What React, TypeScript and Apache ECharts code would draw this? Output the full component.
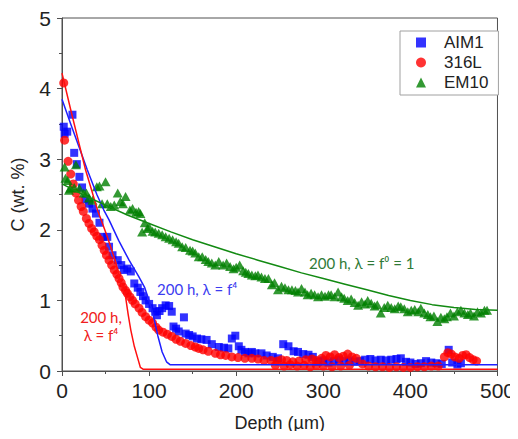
import React, { useEffect, useRef } from "react";
import * as echarts from "echarts";

// ---- data (depth in µm, C in wt.%) ----
const aim1Points: number[][] = [
  [2, 3.46], [3, 3.36], [6, 3.39], [12, 3.63], [14, 3.09], [17, 2.93], [20, 2.75], [23, 2.6],
  [27, 2.43], [31, 2.37], [35, 2.3], [39, 2.23], [43, 2.1], [47, 1.9], [52, 1.9], [54, 1.76],
  [58, 1.64], [64, 1.57], [68, 1.5], [71, 1.43], [75, 1.45], [79, 1.41], [83, 1.24], [87, 1.18],
  [90, 1.12], [93, 1.06], [96, 1.0], [100, 0.95], [104, 0.89], [107, 0.84], [109, 0.79], [112, 0.85],
  [115, 0.89], [119, 0.93], [123, 0.92], [126, 0.84], [128, 0.63], [131, 0.6], [134, 0.56], [140, 0.76],
  [142, 0.53], [146, 0.51], [150, 0.49], [155, 0.46], [160, 0.45], [166, 0.44], [172, 0.38], [180, 0.34],
  [186, 0.33], [191, 0.32], [195, 0.46], [199, 0.5], [203, 0.35], [206, 0.3], [210, 0.27], [214, 0.25],
  [218, 0.27], [222, 0.25], [229, 0.25], [235, 0.22], [242, 0.2], [248, 0.18], [254, 0.38], [260, 0.35],
  [266, 0.28], [271, 0.27], [277, 0.24], [283, 0.23], [288, 0.2], [294, 0.13], [300, 0.15], [306, 0.12],
  [312, 0.14], [318, 0.16], [324, 0.14], [330, 0.15], [336, 0.13], [342, 0.14], [348, 0.16], [354, 0.17],
  [360, 0.15], [366, 0.16], [372, 0.15], [378, 0.16], [384, 0.17], [389, 0.18], [395, 0.13], [400, 0.12],
  [406, 0.1], [412, 0.11], [418, 0.14], [424, 0.12], [430, 0.11], [436, 0.1], [444, 0.3], [448, 0.12],
  [454, 0.09], [458, 0.11],
];

const ss316Points: number[][] = [
  [2, 4.08], [3, 3.27], [7, 2.97], [10, 2.79], [13, 2.65], [16, 2.52], [19, 2.42], [22, 2.33],
  [24.5, 2.26], [28, 2.16], [31, 2.09], [34, 2.02], [37, 1.97], [40, 1.91], [43, 1.86], [46, 1.78],
  [48.5, 1.71], [51, 1.64], [54, 1.57], [57, 1.5], [60, 1.43], [63, 1.37], [65.5, 1.31], [68, 1.25],
  [70, 1.19], [73, 1.14], [75, 1.1], [78, 1.05], [81, 1.0], [84, 0.95], [88.5, 0.89], [92, 0.83],
  [96, 0.77], [100, 0.72], [104, 0.68], [108, 0.62], [111, 0.58], [116, 0.55], [121, 0.52], [126, 0.49],
  [131, 0.45], [136, 0.42], [142, 0.39], [148, 0.36], [153, 0.34], [157, 0.32], [162, 0.3], [168, 0.28],
  [176, 0.25], [182, 0.23], [188, 0.22], [195, 0.2], [202, 0.19], [210, 0.18], [218, 0.18], [225, 0.17],
  [232, 0.15], [240, 0.15], [247, 0.14], [252, 0.16], [258, 0.15], [265, 0.13], [272, 0.14], [280, 0.16],
  [287, 0.17], [292, 0.15], [298, 0.18], [303, 0.22], [308, 0.2], [313, 0.23], [318, 0.19], [323, 0.21],
  [328, 0.24], [333, 0.2], [338, 0.18], [345, 0.1], [352, 0.07], [360, 0.06], [368, 0.06], [376, 0.05],
  [384, 0.06], [392, 0.05], [400, 0.05], [408, 0.06], [416, 0.06], [424, 0.07], [432, 0.07], [439, 0.2],
  [443, 0.26], [447, 0.24], [451, 0.2], [456, 0.18], [460, 0.22], [464, 0.23], [468, 0.19], [472, 0.16],
  [476, 0.14], [245, 0.08], [255, 0.07], [262, 0.09], [270, 0.07], [278, 0.08], [285, 0.06], [292, 0.08],
  [300, 0.07], [310, 0.06], [320, 0.07], [330, 0.08],
];

const em10Points: number[][] = [
  [3, 2.89], [4, 2.73], [6.6, 2.7], [8, 2.56], [9.4, 2.59], [14, 2.6], [16, 2.92], [20, 2.59],
  [25, 2.52], [28, 2.52], [31, 2.45], [35, 2.42], [40, 2.61], [43, 2.62], [46, 2.37], [50, 2.68],
  [52, 2.37], [56, 2.33], [60, 2.35], [64, 2.52], [67, 2.4], [70, 2.37], [73, 2.47], [78, 2.28],
  [81, 2.3], [85, 2.25], [88, 2.26], [90, 2.23], [92, 1.97], [95, 2.1], [98, 2.02], [100, 2.04],
  [104, 1.98], [107, 1.97], [111, 1.95], [115, 1.93], [119, 1.9], [123, 1.88], [127, 1.86], [131, 1.83],
  [134, 1.81], [138, 1.76], [142, 1.75], [147, 1.71], [150, 1.7], [153, 1.67], [157, 1.62], [161, 1.62],
  [165, 1.58], [168, 1.55], [172, 1.53], [176, 1.5], [180, 1.55], [185, 1.5], [189, 1.53], [193, 1.48],
  [197, 1.45], [200, 1.47], [204, 1.5], [208, 1.42], [211, 1.4], [214, 1.38], [218, 1.36], [222, 1.35],
  [225, 1.36], [229, 1.33], [233, 1.31], [237, 1.31], [241, 1.22], [244, 1.25], [248, 1.15], [252, 1.2],
  [256, 1.18], [260, 1.15], [264, 1.15], [268, 1.14], [271, 1.12], [275, 1.17], [279, 1.12], [282, 1.08],
  [286, 1.1], [290, 1.08], [294, 1.05], [298, 1.08], [302, 1.06], [306, 1.08], [309, 1.08], [313, 1.05],
  [317, 1.12], [321, 1.05], [324, 1.03], [328, 1.0], [332, 1.02], [336, 0.97], [340, 0.93], [344, 0.98],
  [348, 0.95], [351, 1.0], [355, 0.96], [359, 0.92], [362, 0.94], [366, 0.82], [370, 0.9], [374, 0.93],
  [378, 0.9], [382, 0.88], [386, 0.92], [389, 0.91], [393, 0.88], [397, 0.84], [401, 0.86], [405, 0.87],
  [409, 0.84], [412, 0.89], [416, 0.82], [420, 0.8], [423, 0.77], [427, 0.78], [431, 0.7], [435, 0.76],
  [439, 0.74], [442, 0.77], [446, 0.82], [450, 0.78], [454, 0.84], [458, 0.86], [462, 0.82], [466, 0.8],
  [469, 0.82], [473, 0.78], [477, 0.84], [481, 0.82], [485, 0.86], [488, 0.86],
];

// model curves (200 h)
const aim1Fit: number[][] = [
  [0, 3.85], [10, 3.5], [20, 3.16], [29, 2.85], [40, 2.5], [48, 2.28], [54, 2.14], [65, 1.85],
  [77, 1.57], [88, 1.34], [95, 1.18], [100, 1.0], [105, 0.78], [110, 0.5], [115, 0.27], [120, 0.13],
  [124, 0.09], [500, 0.09],
];
const ss316Fit: number[][] = [
  [0, 4.22], [10, 3.7], [20, 3.2], [27, 2.85], [35, 2.52], [41, 2.27], [45, 2.14], [52, 1.9],
  [62, 1.53], [66, 1.3], [73, 1.05], [76, 0.8], [79, 0.58], [83, 0.35], [86.5, 0.2], [90, 0.05],
  [93, 0.025], [500, 0.025],
];
const em10Fit: number[][] = [
  [0, 2.65], [25, 2.49], [50, 2.35], [75, 2.21], [100, 2.09], [125, 1.97], [150, 1.86], [175, 1.76],
  [200, 1.66], [225, 1.57], [250, 1.48], [275, 1.39], [300, 1.31], [325, 1.23], [350, 1.15], [375, 1.07],
  [400, 1.0], [425, 0.94], [450, 0.9], [475, 0.87], [500, 0.86],
];

const seriesNames = ["AIM1", "316L", "EM10"];
const xRange = [0, 500];
const yRange = [0, 5];

const SANS = "'Liberation Sans', Arial, sans-serif";
const ANNOT = "Lato, 'Open Sans', sans-serif";
const AXIS = "#505050";

export default function App() {
  const ref = useRef<HTMLDivElement>(null);
  useEffect(() => {
    if (!ref.current) return;
    const chart = echarts.init(ref.current, undefined, { renderer: "svg" });
    const axisCommon = {
      type: "value" as const,
      nameLocation: "middle" as const,
      nameTextStyle: { fontSize: 18, color: "#222", fontFamily: SANS },
      axisLine: { show: true, onZero: false, lineStyle: { color: AXIS, width: 1 } },
      axisTick: { show: true, inside: false, length: 5, lineStyle: { color: AXIS } },
      minorTick: { show: true, splitNumber: 2, length: 3, lineStyle: { color: AXIS } },
      splitLine: { show: false },
      minorSplitLine: { show: false },
    };
    chart.setOption({
      animation: false,
      backgroundColor: "#ffffff",
      grid: { left: 62, right: 17, top: 18, bottom: 68, show: true, borderColor: AXIS, borderWidth: 1 },
      xAxis: {
        ...axisCommon,
        min: xRange[0],
        max: xRange[1],
        interval: 100,
        name: "Depth (µm)",
        nameGap: 43,
        axisLabel: { fontSize: 21, color: "#222", margin: 9, fontFamily: SANS },
      },
      yAxis: {
        ...axisCommon,
        min: yRange[0],
        max: yRange[1],
        interval: 1,
        name: "C (wt. %)",
        nameGap: 35,
        axisLabel: { fontSize: 21, color: "#222", margin: 11, fontFamily: SANS },
      },
      legend: {
        orient: "vertical",
        left: 400,
        top: 31,
        padding: [3, 10, 4, 16],
        itemGap: 3,
        itemWidth: 10,
        itemHeight: 10,
        symbolKeepAspect: true,
        borderColor: "#a0a0a0",
        borderWidth: 1,
        backgroundColor: "#fff",
        textStyle: { fontSize: 17, color: "#222", fontFamily: SANS, padding: [0, 0, 0, 13] },
        data: [
          { name: seriesNames[0], icon: "rect", itemStyle: { color: "#0000ff" } },
          { name: seriesNames[1], icon: "circle", itemStyle: { color: "#ff0000" } },
          { name: seriesNames[2], icon: "triangle", itemStyle: { color: "#008000" } },
        ],
      },
      series: [
        {
          name: seriesNames[0],
          type: "scatter",
          data: aim1Points,
          symbol: "rect",
          symbolSize: 8,
          itemStyle: { color: "#0000ff" },
        },
        {
          name: seriesNames[1],
          type: "scatter",
          data: ss316Points,
          symbol: "circle",
          symbolSize: 9,
          itemStyle: { color: "#ff0000" },
        },
        {
          name: seriesNames[2],
          type: "scatter",
          data: em10Points,
          symbol: "triangle",
          symbolSize: [10, 9],
          itemStyle: { color: "#008000" },
        },
        {
          name: "AIM1 fit",
          type: "line",
          data: aim1Fit,
          showSymbol: false,
          lineStyle: { color: "#1f1fff", width: 1.5 },
        },
        {
          name: "316L fit",
          type: "line",
          data: ss316Fit,
          showSymbol: false,
          lineStyle: { color: "#ff1010", width: 1.5 },
        },
        {
          name: "EM10 fit",
          type: "line",
          data: em10Fit,
          showSymbol: false,
          lineStyle: { color: "#128a12", width: 1.5 },
        },
      ],
      graphic: [
        {
          type: "text",
          x: 157,
          y: 289,
          style: {
            text: "200 h, λ = f⁴",
            fill: "#3c3cf0",
            fontSize: 15,
            fontFamily: ANNOT,
            align: "left",
            verticalAlign: "middle",
          },
        },
        {
          type: "text",
          x: 101,
          y: 326,
          style: {
            text: "200 h,\nλ = f⁴",
            fill: "#f02020",
            fontSize: 15,
            lineHeight: 18,
            fontFamily: ANNOT,
            align: "center",
            verticalAlign: "middle",
          },
        },
        {
          type: "text",
          x: 309,
          y: 263,
          style: {
            text: "200 h, λ = f⁰ = 1",
            fill: "#2f7a37",
            fontSize: 15,
            fontFamily: ANNOT,
            align: "left",
            verticalAlign: "middle",
          },
        },
      ],
    });
    return () => chart.dispose();
  }, []);
  return <div ref={ref} style={{ width: 518, height: 439, margin: -8 }} />;
}
